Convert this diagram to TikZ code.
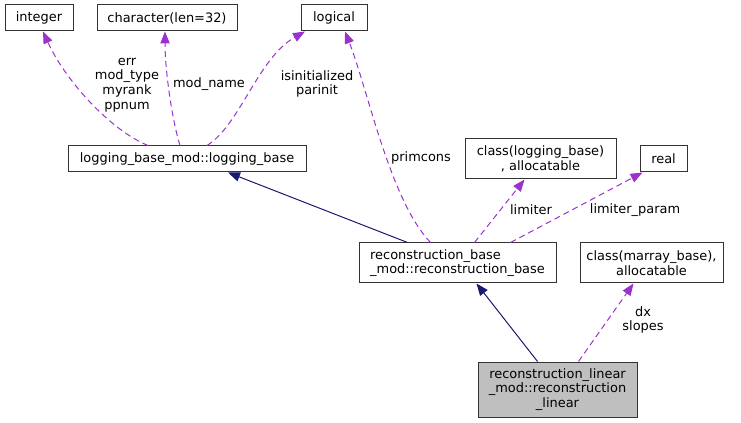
\documentclass[tikz,border=0pt]{standalone}
\usepackage{fontspec}
\setmainfont{DejaVu Sans}
\usetikzlibrary{arrows.meta,calc}
\definecolor{member}{RGB}{154,50,205}
\definecolor{inherit}{RGB}{25,25,112}
\definecolor{hilite}{RGB}{191,191,191}

\begin{document}
\begin{tikzpicture}[x=0.75pt,y=-0.75pt,
  every node/.style={font=\fontsize{9.7pt}{11pt}\selectfont},
  box/.style={draw=black!80,line width=0.75pt,align=center,inner sep=0pt},
  lbl/.style={align=center,inner sep=0pt},
  uses/.style={color=member,line width=0.75pt,dash pattern=on 4.5pt off 3pt,
    -{Triangle[length=9pt,width=7pt]}},
  isa/.style={color=inherit,line width=0.75pt,-{Triangle[length=9pt,width=7pt]}}]
\useasboundingbox (0,0) rectangle (741,423);

% types
\node[box,minimum width=51pt,minimum height=19.5pt] (int) at (39,18) {integer};
\node[box,minimum width=105pt,minimum height=19.5pt] (chr) at (167,18) {character(len=32)};
\node[box,minimum width=49.5pt,minimum height=19.5pt] (lgc) at (334,18) {logical};
\node[box,minimum width=113.25pt,minimum height=30pt] (clb) at (540.5,159) {class(logging\_base)\\, allocatable};
\node[box,minimum width=35.25pt,minimum height=19.5pt] (rl) at (663.5,159) {real};
\node[box,minimum width=107.25pt,minimum height=30pt] (cmb) at (651.5,263) {class(marray\_base),\\allocatable};

% classes
\node[box,minimum width=178.5pt,minimum height=19.5pt] (lb) at (187,159) {logging\_base\_mod::logging\_base};
\node[box,minimum width=147.75pt,minimum height=30pt,align=left] (rb) at (457.5,263) {reconstruction\_base\\\_mod::reconstruction\_base};
\node[box,fill=hilite,minimum width=119.25pt,minimum height=41.25pt] (lin) at (557.5,389.5) {reconstruction\_linear\\\_mod::reconstruction\\\_linear};

% inheritance
\draw[isa] ($(rb.north)+(-50,0)$) -- ($(lb.south)+(41,0)$);
\draw[isa] ($(lin.north)+(-20,0)$) -- ($(rb.south)+(19,0)$);

% members
\draw[uses] ($(lb.north)+(-39,0)$) .. controls (110,130) and (65,80) .. ($(int.south)+(4,0)$);
\draw[uses] ($(lb.north)+(-7,0)$) .. controls (172,120) and (165,70) .. ($(chr.south)+(-2,0)$);
\draw[uses] ($(lb.north)+(20,0)$) .. controls (240,125) and (258,58) .. ($(lgc.south)+(-29,0)$);
\draw[uses] ($(rb.north)+(-27,0)$) .. controls (390,200) and (368,90) .. ($(lgc.south)+(11,0)$);
\draw[uses] ($(rb.north)+(17,0)$) -- ($(clb.south)+(-16,0)$);
\draw[uses] ($(rb.north)+(53,0)$) -- ($(rl.south)+(-21,0)$);
\draw[uses] ($(lin.north)+(21,0)$) -- ($(cmb.south)+(-18,0)$);

% labels
\node[lbl] (l1) at (127,85) {err\\mod\_type\\myrank\\ppnum};
\node[lbl] (l2) at (209,84) {mod\_name};
\node[lbl] (l3) at (317,84) {isinitialized\\parinit};
\node[lbl] (l4) at (421,158) {primcons};
\node[lbl] (l5) at (531,210) {limiter};
\node[lbl] (l6) at (635,210) {limiter\_param};
\node[lbl] (l7) at (643,320) {dx\\slopes};
\end{tikzpicture}
\end{document}
